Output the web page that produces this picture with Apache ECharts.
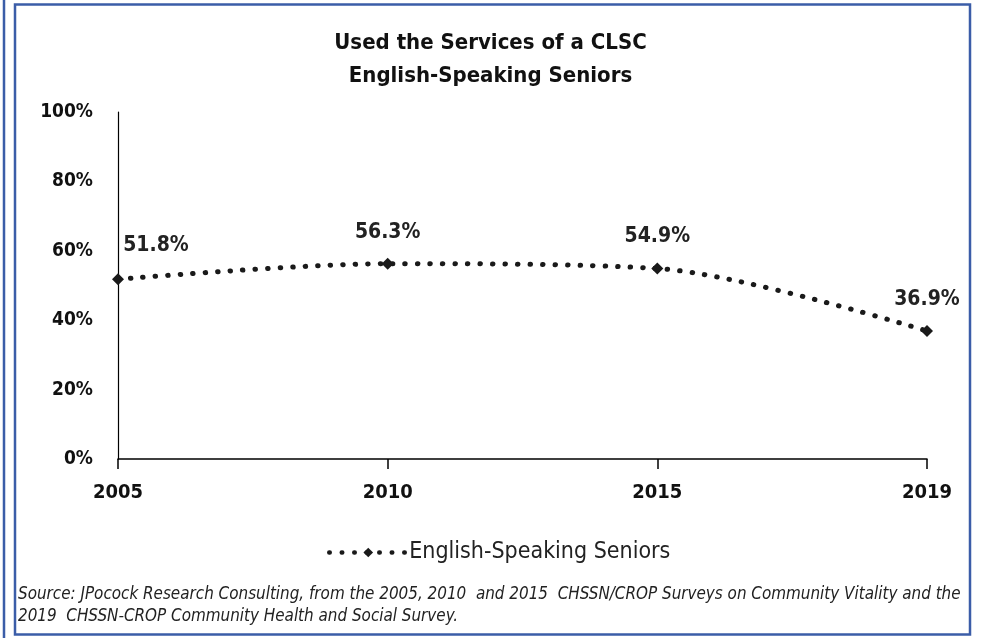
<!DOCTYPE html>
<html><head><meta charset="utf-8">
<script src="https://cdn.jsdelivr.net/npm/echarts@6/dist/echarts.min.js"></script>
<style>html,body{margin:0;padding:0;background:#fff}#c{width:981px;height:638px}</style>
</head><body><div id="c"></div>
<script>
const categories = ['2005','2010','2015','2019'];
const seniors = [51.8, 56.3, 54.9, 36.9];
const yTicks = [0, 20, 40, 60, 80, 100];
const seriesName = 'English-Speaking Seniors';
const titleLines = ['Used the Services of a CLSC', 'English-Speaking Seniors'];
const sourceLines = ['Source: JPocock Research Consulting, from the 2005, 2010  and 2015  CHSSN/CROP Surveys on Community Vitality and the',
                     '2019  CHSSN-CROP Community Health and Social Survey.'];

const FONT = '"Liberation Sans Narrow", "DejaVu Sans Condensed", "Open Sans", sans-serif';
const chart = echarts.init(document.getElementById('c'));
const seriesData = seniors.map((v, i) => i === 0
  ? { value: v, label: { offset: [38, -2] } }
  : { value: v });
chart.setOption({
  animation: false,
  backgroundColor: '#fff',
  textStyle: { fontFamily: FONT },
  title: {
    text: titleLines.join('\n'), left: 'center', top: 22,
    textStyle: { fontFamily: FONT, fontSize: 22, fontWeight: 'bold', color: '#111', lineHeight: 33 }
  },
  legend: {
    data: [{ name: seriesName, lineStyle: { type: [0.5, 12], width: 4.5, cap: 'round' } }],
    left: 327, top: 541, itemWidth: 78, itemHeight: 12, padding: 0,
    textStyle: { fontFamily: FONT, fontSize: 23, color: '#222', padding: [0, 0, 0, -3] }
  },
  grid: { left: 118, right: 54, top: 112, bottom: 179, containLabel: false },
  xAxis: {
    type: 'category', data: categories, boundaryGap: false,
    axisLine: { lineStyle: { color: '#000', width: 1.5 } },
    axisTick: { show: true, length: 10, lineStyle: { color: '#000', width: 1.5 } },
    axisLabel: { fontFamily: FONT, fontSize: 20, fontWeight: 'bold', color: '#111', margin: 24 },
    splitLine: { show: false }
  },
  yAxis: {
    type: 'value', min: yTicks[0], max: yTicks[yTicks.length - 1], interval: 20,
    axisLine: { show: true, lineStyle: { color: '#000', width: 1.2 } },
    axisTick: { show: false },
    splitLine: { show: false },
    axisLabel: { formatter: '{value}%', fontFamily: FONT, fontSize: 19, fontWeight: 'bold', color: '#111', margin: 25 }
  },
  series: [{
    name: seriesName, type: 'line', data: seriesData, smooth: 0.3,
    symbol: 'diamond', symbolSize: 12,
    itemStyle: { color: '#1a1a1a' },
    lineStyle: { color: '#1a1a1a', width: 5, type: [0.5, 12], cap: 'round' },
    label: {
      show: true, position: 'top', distance: 15, formatter: p => p.value.toFixed(1) + '%',
      fontFamily: FONT, fontSize: 21, fontWeight: 'bold', color: '#222'
    }
  }],
  graphic: [
    { type: 'rect', shape: { x: 15, y: 4.5, width: 955, height: 630 }, style: { fill: 'none', stroke: '#3B5DA8', lineWidth: 2.5 }, silent: true },
    { type: 'line', shape: { x1: 4, y1: 0, x2: 4, y2: 638 }, style: { stroke: '#3B5DA8', lineWidth: 2.5 }, silent: true },
    { type: 'text', left: 18, top: 584, style: { text: sourceLines.join('\n'), font: 'italic 16.9px ' + FONT, fill: '#222', lineHeight: 22 } }
  ]
});
</script></body></html>
